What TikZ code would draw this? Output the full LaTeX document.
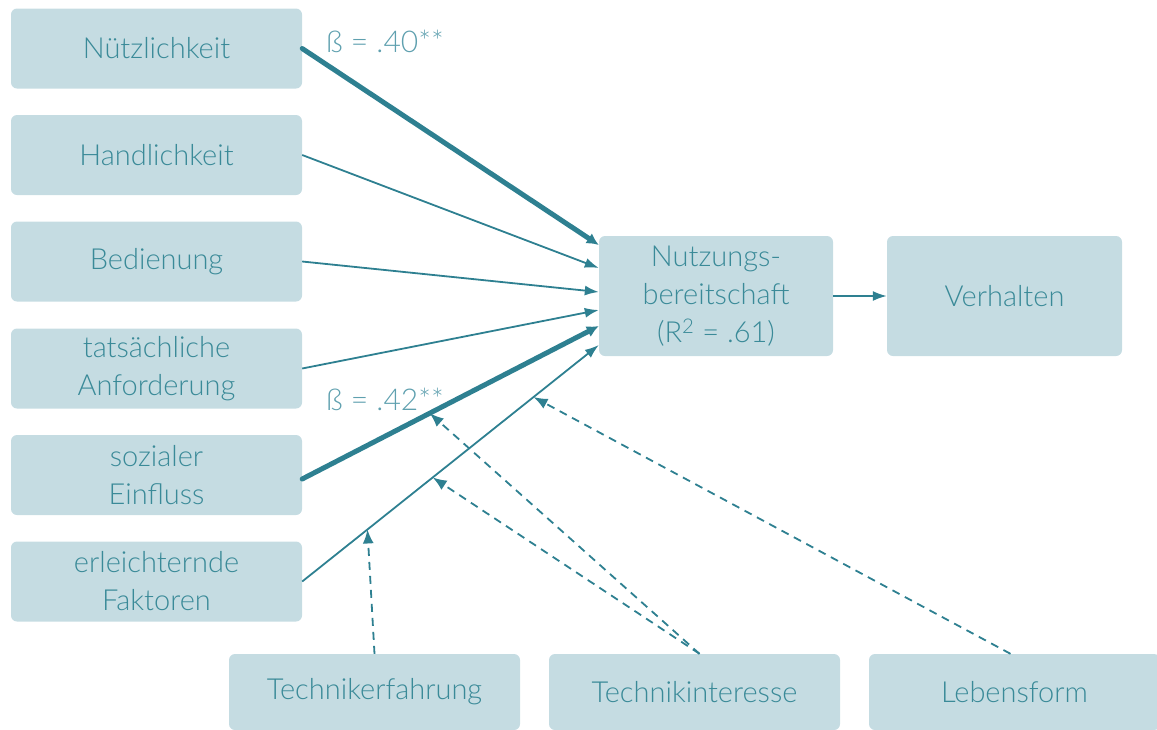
\documentclass[tikz,border=0pt]{standalone}
\usepackage{fontspec}
\setmainfont{Lato Light}
\usetikzlibrary{arrows.meta}
\definecolor{boxfill}{RGB}{197,220,226}
\definecolor{txt}{RGB}{58,138,152}
\definecolor{lbl}{RGB}{95,160,175}
\definecolor{ln}{RGB}{46,128,145}
\tikzset{
  box/.style={fill=boxfill, rounded corners=6pt, minimum width=291pt, minimum height=80pt,
    text=txt, align=center, inner sep=0pt, font=\fontsize{29}{38}\selectfont},
  thin/.style={draw=ln, line width=1.8pt, -{Latex[length=14pt,width=10pt]}},
  thick/.style={draw=ln, line width=5pt, line cap=round, -{Latex[length=12pt,width=12pt]}},
  dsh/.style={draw=ln, line width=1.8pt, dash pattern=on 8pt off 6pt, -{Latex[length=14pt,width=11pt]}},
  coef/.style={text=lbl, font=\fontsize{30}{31}\selectfont, anchor=west, inner sep=0pt}
}
\begin{document}
\begin{tikzpicture}[x=1pt,y=-1pt]
\useasboundingbox (0,0) rectangle (1157,729);
\clip (0,0) rectangle (1157,729);
\node[box] (n1) at (156.5,48.5) {Nützlichkeit};
\node[box] (n2) at (156.5,155) {Handlichkeit};
\node[box] (n3) at (156.5,261.5) {Bedienung};
\node[box] (n4) at (156.5,368.5) {tatsächliche\\Anforderung};
\node[box] (n5) at (156.5,475) {sozialer\\Einfluss};
\node[box] (n6) at (156.5,581.5) {erleichternde\\Faktoren};
\node[box, minimum width=234pt, minimum height=120pt] (nb) at (716,296) {Nutzungs-\\bereitschaft\\(R\textsuperscript{2} = .61)};
\node[box, minimum width=235pt, minimum height=120pt] (vh) at (1004.5,296) {Verhalten};
\node[box, minimum height=76pt] (tf) at (374.5,692) {Technikerfahrung};
\node[box, minimum height=76pt] (ti) at (694.5,692) {Technikinteresse};
\node[box, minimum height=76pt] (lf) at (1014.5,692) {Lebensform};

\draw[thick] (n1.east) -- ([yshift=51pt]nb.west);
\draw[thin] (n2.east) -- ([yshift=28pt]nb.west);
\draw[thin] (n3.east) -- ([yshift=4pt]nb.west);
\draw[thin] (n4.east) -- ([yshift=-14pt]nb.west);
\draw[thick] ([yshift=-4pt]n5.east) -- ([yshift=-30pt]nb.west) coordinate[pos=0.43] (m5);
\draw[thin] (n6.east) -- ([yshift=-49pt]nb.west)
  coordinate[pos=0.22] (m6a) coordinate[pos=0.44] (m6b) coordinate[pos=0.78] (m6c);
\draw[thin] (nb.east) -- (vh.west);

\draw[dsh] (tf.north) -- (m6a);
\draw[dsh] ([xshift=5pt]ti.north) -- (m5);
\draw[dsh] ([xshift=5pt]ti.north) -- (m6b);
\draw[dsh] ([xshift=-4pt]lf.north) -- (m6c);

\node[coef] (c1) at (326,41) {ß = .40**};
\node[coef] (c2) at (326,399) {ß = .42**};
\end{tikzpicture}
\end{document}
